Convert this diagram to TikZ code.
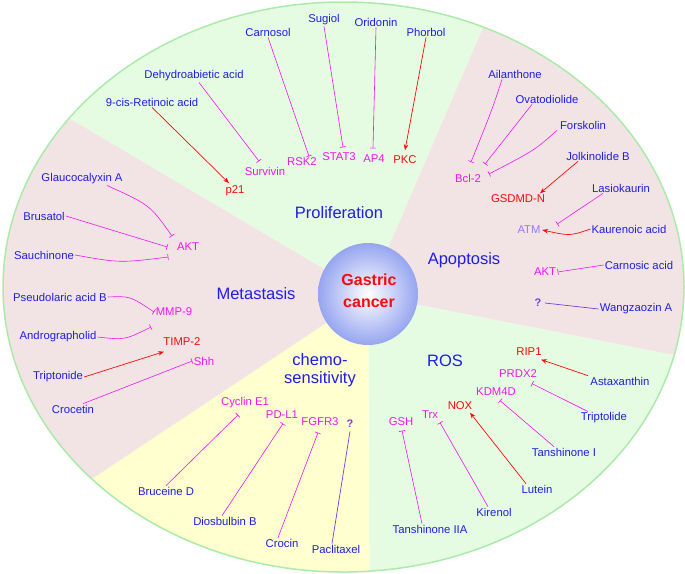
\documentclass[tikz,border=0pt]{standalone}
\usepackage{fontspec}
\setmainfont{Liberation Sans}
\usetikzlibrary{arrows.meta}
\definecolor{tb}{RGB}{30,30,230}
\definecolor{tm}{RGB}{240,20,240}
\definecolor{tr}{RGB}{250,10,10}
\definecolor{tp}{RGB}{120,60,230}
\definecolor{fg}{RGB}{230,252,226}
\definecolor{fp}{RGB}{242,228,228}
\definecolor{fy}{RGB}{255,255,208}
\definecolor{eg}{RGB}{170,235,170}
\definecolor{ballo}{RGB}{150,165,240}
\begin{document}
\begin{tikzpicture}[x=1pt,y=-1pt,
 drug/.style={text=tb,font=\fontsize{11.3}{12}\selectfont,inner sep=1pt},
 tgm/.style={text=tm,font=\fontsize{11.3}{12}\selectfont,inner sep=1.5pt},
 tgr/.style={text=tr,font=\fontsize{11.3}{12}\selectfont,inner sep=1.5pt},
 title/.style={text=tb,font=\fontsize{16.5}{18}\selectfont,align=center},
 inh/.style={tm,line width=0.6pt,-{Bar[width=6pt]}},
 act/.style={tr,line width=0.7pt,-{Stealth[length=6pt,width=4.5pt]}},
 pl/.style={tp,line width=0.7pt}]
\useasboundingbox (0,0) rectangle (685,573);
\begin{scope}
\clip (343.5,287) ellipse [x radius=340.5, y radius=285];
\fill[fg] (368,295) -- (-300,-100) -- (538,-100) -- cycle;
\fill[fp] (368,295) -- (538,-100) -- (800,-100) -- (800,380) -- cycle;
\fill[fg] (368,295) -- (800,380) -- (800,700) -- (370,700) -- cycle;
\fill[fy] (368,295) -- (370,700) -- (-300,700) -- (-300,740) -- cycle;
\fill[fp] (368,295) -- (-300,740) -- (-300,-100) -- cycle;
\end{scope}
\draw[eg,line width=1.5pt] (343.5,287) ellipse [x radius=340.5, y radius=285];
\shade[inner color=white,outer color=ballo,shading=radial] (368,294) ellipse [x radius=50, y radius=51];
\node[text=tr,font=\bfseries\fontsize{16}{20}\selectfont,align=center] (gc) at (369,291) {Gastric\\[2pt]cancer};

% titles
\node[title] (tprol) at (339,213) {Proliferation};
\node[title] (tapo) at (464,260) {Apoptosis};
\node[title] (tmet) at (256,294) {Metastasis};
\node[title] (tros) at (445,361) {ROS};
\node[title,inner sep=0pt] (tchem) at (320,370) {chemo-\\sensitivity};

% proliferation
\node[drug] (carnosol) at (268,32) {Carnosol};
\node[drug] (sugiol) at (324,20) {Sugiol};
\node[drug] (oridonin) at (376,22) {Oridonin};
\node[drug] (phorbol) at (426,32) {Phorbol};
\node[drug] (dehy) at (194,76) {Dehydroabietic acid};
\node[drug] (retin) at (152,102) {9-cis-Retinoic acid};
\node[tgm] (survivin) at (265,171) {Survivin};
\node[tgm] (rsk2) at (302,162) {RSK2};
\node[tgm] (stat3) at (339,157) {STAT3};
\node[tgm] (ap4) at (374,159) {AP4};
\node[tgr] (pkc) at (405,160) {PKC};
\node[tgr] (p21) at (235,191) {p21};
\draw[inh] (carnosol.south) -- ([shift={(7,0)}]rsk2.north);
\draw[inh] (sugiol.south) -- ([shift={(4,-4)}]stat3.north);
\draw[inh] (oridonin.south) -- ([shift={(-1,-5)}]ap4.north);
\draw[act] (phorbol.south) -- ([shift={(0,-4)}]pkc.north);
\draw[inh] ([shift={(5,0)}]dehy.south) -- ([shift={(-6,-4)}]survivin.north);
\draw[act] (retin.south) -- ([shift={(-6,-1)}]p21.north);

% apoptosis
\node[drug] (ailan) at (515,74) {Ailanthone};
\node[drug] (ovato) at (547,99) {Ovatodiolide};
\node[drug] (forsk) at (583,125) {Forskolin};
\node[tgm] (bcl2) at (468,178) {Bcl-2};
\node[drug] (jolk) at (598,156) {Jolkinolide B};
\node[tgr] (gsdmd) at (518,199) {GSDMD-N};
\node[drug] (lasio) at (621,188) {Lasiokaurin};
\node[text=tp!60!blue!60,font=\fontsize{11.3}{12}\selectfont,inner sep=1.5pt] (atm) at (529,230) {ATM};
\node[drug] (kaur) at (629,229) {Kaurenoic acid};
\node[tgm] (akt2) at (545,272) {AKT};
\node[drug] (carnac) at (639,265) {Carnosic acid};
\node[text=tp,font=\bfseries\fontsize{11}{12}\selectfont] (q1) at (538,303) {?};
\node[drug] (wang) at (636,309) {Wangzaozin A};
\draw[inh] ([shift={(-13,0)}]ailan.south) .. controls (492,110) .. (471,162);
\draw[inh] ([shift={(-15,0)}]ovato.south) -- (485,164);
\draw[inh] ([shift={(-26,0)}]forsk.south) .. controls (535,150) .. (489,174);
\draw[act] ([shift={(-20,0)}]jolk.south) -- ([shift={(22,0)}]gsdmd.north);
\draw[inh] ([shift={(-18,0)}]lasio.south) -- ([shift={(15,-6)}]atm.east);
\draw[act] (kaur.west) .. controls (570,236) .. (atm.east);
\draw[inh] (carnac.west) -- (akt2.east);
\draw[pl] (wang.west) -- (q1.east);

% metastasis
\node[drug] (glau) at (82,179) {Glaucocalyxin A};
\node[drug] (brus) at (44,216) {Brusatol};
\node[drug] (sauch) at (44,255) {Sauchinone};
\node[tgm] (akt1) at (188,247) {AKT};
\node[drug] (pseudo) at (60,297) {Pseudolaric acid B};
\node[tgm] (mmp9) at (174,312) {MMP-9};
\node[drug] (andro) at (58,337) {Andrographolid};
\node[tgr] (timp) at (182,342) {TIMP-2};
\node[drug] (tripn) at (58,377) {Triptonide};
\node[tgm] (shh) at (204,361) {Shh};
\node[drug] (croce) at (73,409) {Crocetin};
\draw[inh] ([shift={(25,0)}]glau.south) .. controls (150,205) .. (172,236);
\draw[inh] (brus.east) -- ([shift={(-8,0)}]akt1.west);
\draw[inh] (sauch.east) .. controls (120,263) .. ([shift={(-7,10)}]akt1.west);
\draw[inh] (pseudo.east) .. controls (130,296) .. (mmp9.west);
\draw[inh] (andro.east) .. controls (125,340) .. (151,327);
\draw[act] (tripn.east) -- ([shift={(-18,4)}]timp.south);
\draw[inh] ([shift={(10,0)}]croce.north) -- (shh.west);

% chemosensitivity
\node[tgm] (cyc) at (245,403) {Cyclin E1};
\node[tgm] (pdl1) at (282,415) {PD-L1};
\node[tgm] (fgfr3) at (320,422) {FGFR3};
\node[text=tp,font=\bfseries\fontsize{11}{12}\selectfont] (q2) at (350,424) {?};
\node[drug] (bruc) at (166,491) {Bruceine D};
\node[drug] (diosb) at (225,521) {Diosbulbin B};
\node[drug] (crocin) at (282,543) {Crocin};
\node[drug] (pacl) at (336,549) {Paclitaxel};
\draw[inh] (bruc.north) -- ([shift={(-7,5)}]cyc.south);
\draw[inh] ([shift={(-3,0)}]diosb.north) -- ([shift={(1,3)}]pdl1.south);
\draw[inh] ([shift={(-4,0)}]crocin.north) -- ([shift={(-2,5)}]fgfr3.south);
\draw[pl] ([shift={(-4,0)}]pacl.north) -- (q2.south);

% ROS
\node[tgr] (rip1) at (529,352) {RIP1};
\node[drug] (asta) at (620,381) {Astaxanthin};
\node[tgm] (prdx2) at (518,374) {PRDX2};
\node[drug] (tripl) at (604,418) {Triptolide};
\node[tgm] (kdm) at (496,392) {KDM4D};
\node[drug] (tansh) at (564,452) {Tanshinone I};
\node[tgr] (nox) at (460,406) {NOX};
\node[drug] (lutein) at (537,489) {Lutein};
\node[tgm] (trx) at (430,415) {Trx};
\node[drug] (kiren) at (494,512) {Kirenol};
\node[tgm] (gsh) at (401,422) {GSH};
\node[drug] (tans2) at (430,529) {Tanshinone IIA};
\draw[act] ([shift={(-32,0)}]asta.north) -- ([shift={(12,2)}]rip1.south);
\draw[inh] ([shift={(-16,0)}]tripl.north) -- ([shift={(14,4)}]prdx2.south);
\draw[inh] ([shift={(-10,0)}]tansh.north) -- ([shift={(4,3)}]kdm.south);
\draw[act] ([shift={(-11,0)}]lutein.north) -- ([shift={(10,1)}]nox.south);
\draw[inh] ([shift={(-6,0)}]kiren.north) -- ([shift={(10,2)}]trx.south);
\draw[inh] ([shift={(-8,0)}]tans2.north) -- ([shift={(1,3)}]gsh.south);
\end{tikzpicture}
\end{document}
